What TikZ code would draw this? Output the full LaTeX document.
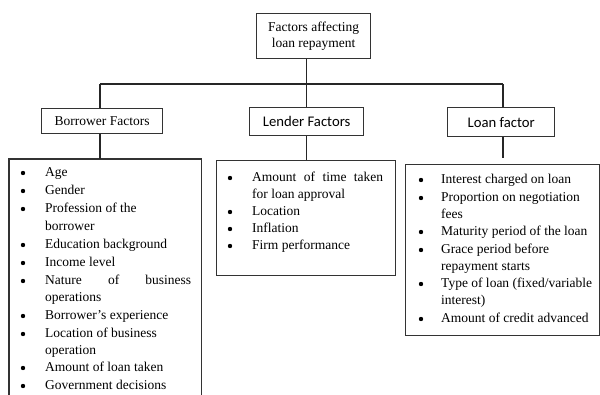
\documentclass[tikz,border=0pt]{standalone}
\usepackage{fontspec}
\setmainfont{Liberation Serif}
\newfontfamily\hdrsans{Carlito}
\begin{document}
\begin{tikzpicture}[x=1pt,y=-1pt,
  boxline/.style={draw=black!80, line width=1.3pt},
  conn/.style={draw=black!85, line width=1.2pt},
  boxnode/.style={boxline, inner sep=0pt, anchor=north west},
  serifhdr/.style={font=\fontsize{13.5}{16}\selectfont},
  sanshdr/.style={font=\hdrsans\fontsize{14.7}{17}\selectfont},
  itemtxt/.style={anchor=west, inner sep=0pt, yshift=-1.5pt, text height=9.5pt, text depth=3pt, font=\fontsize{13.5}{16}\selectfont},
  bul/.style={circle, fill=black, inner sep=0pt, yshift=-1pt, minimum size=4.4pt},
]
\useasboundingbox (0,0) rectangle (600,394);

% top box
\node[boxnode, minimum width=114pt, minimum height=45pt] (top) at (256,13) {};
\node[serifhdr, align=center, inner sep=0pt] (toptxt) at (top.center) {Factors affecting\\[-0.5pt]loan repayment};

% junctions
\coordinate (j1) at (100,84);
\coordinate (j2) at (306.5,84);
\coordinate (j3) at (503,84);
\coordinate (n4) at (503,158);

% headers
\node[boxnode, minimum width=121pt, minimum height=25pt] (bh) at (41,108) {};
\node[serifhdr, inner sep=0pt] (bhtxt) at (bh.center) {Borrower Factors};
\node[boxnode, minimum width=114pt, minimum height=28pt] (lh) at (249,107) {};
\node[sanshdr, inner sep=0pt] (lhtxt) at (lh.center) {Lender Factors};
\node[boxnode, minimum width=107pt, minimum height=29pt] (nh) at (447,107) {};
\node[sanshdr, inner sep=0pt] (nhtxt) at (nh.center) {Loan factor};

% list boxes
\node[inner sep=0pt, anchor=north west, minimum width=192pt, minimum height=240pt] (bb) at (9,159) {};
\draw[boxline] (bb.south west) -- (bb.north west) -- (bb.north east) -- (bb.south east);
\node[boxnode, minimum width=179pt, minimum height=115pt] (lb) at (216,160) {};
\node[boxnode, minimum width=194pt, minimum height=171pt] (nb) at (405,164) {};

% connectors
\draw[conn] (top.south -| j2) -- (j2);
\draw[conn] (j1) -- (j3);
\draw[conn] (j1) -- (bh.north -| j1);
\draw[conn] (bh.south -| j1) -- (bb.north -| j1);
\draw[conn] (j2) -- (lh.north -| j2);
\draw[conn] (lh.south -| j2) -- (lb.north -| j2);
\draw[conn] (j3) -- (nh.north -| j3);
\draw[conn] (nh.south -| j3) -- (n4);

% borrower items
\foreach \y/\b/\t [count=\i] in {
  172/1/Age,
  190/1/Gender,
  208/1/{Profession of the},
  226/0/borrower,
  244/1/{Education background},
  262/1/{Income level},
  280/1/{\hbox to 146pt{Nature\hfill of\hfill business}},
  297/0/operations,
  315/1/{Borrower’s experience},
  333/1/{Location of business},
  350/0/operation,
  367/1/{Amount of loan taken},
  385/1/{Government decisions}}{
  \node[itemtxt] (bt\i) at (45,\y) {\t};
  \ifnum\b=1 \node[bul] (bu\i) at (23,\y) {}; \fi
}

% lender items
\foreach \y/\b/\t [count=\i] in {
  177/1/{\hbox to 131pt{Amount\hfill of\hfill time\hfill taken}},
  194/0/{for loan approval},
  211/1/Location,
  228/1/Inflation,
  245/1/{Firm performance}}{
  \node[itemtxt] (lt\i) at (252,\y) {\t};
  \ifnum\b=1 \node[bul] (lu\i) at (230,\y) {}; \fi
}

% loan items
\foreach \y/\b/\t [count=\i] in {
  179/1/{Interest charged on loan},
  197/1/{Proportion on negotiation},
  214/0/fees,
  231/1/{Maturity period of the loan},
  249/1/{Grace period before},
  266/0/{repayment starts},
  283/1/{Type of loan (fixed/variable},
  300/0/{interest)},
  318/1/{Amount of credit advanced}}{
  \node[itemtxt] (nt\i) at (441,\y) {\t};
  \ifnum\b=1 \node[bul] (nu\i) at (421,\y) {}; \fi
}
\end{tikzpicture}
\end{document}
